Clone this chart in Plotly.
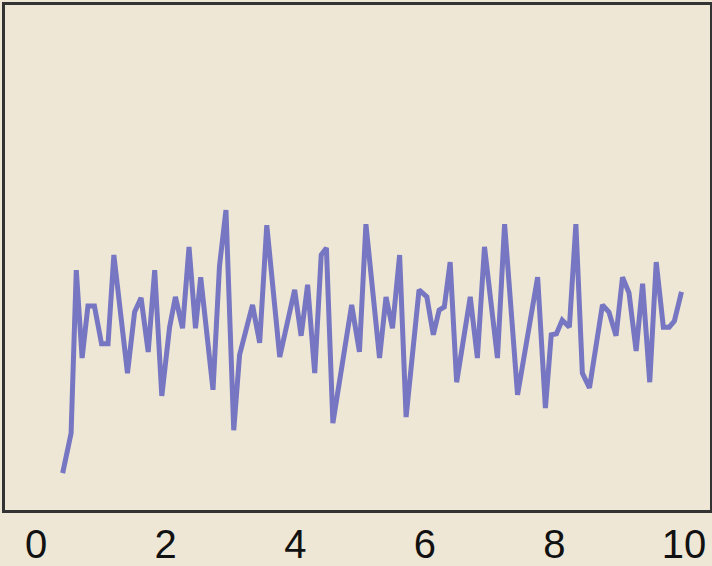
import plotly.graph_objects as go

x_values = [0.41, 0.54, 0.62, 0.71, 0.80, 0.90, 1.01, 1.11, 1.20, 1.41,
            1.52, 1.62, 1.73, 1.83, 1.94, 2.06, 2.15, 2.26, 2.36, 2.46,
            2.54, 2.73, 2.83, 2.93, 3.05, 3.14, 3.34, 3.45, 3.56, 3.76,
            3.99, 4.09, 4.19, 4.30, 4.40, 4.48, 4.58, 4.87, 4.99, 5.09,
            5.30, 5.40, 5.50, 5.61, 5.71, 5.91, 6.03, 6.13, 6.22, 6.30,
            6.39, 6.49, 6.70, 6.81, 6.92, 7.12, 7.23, 7.43, 7.74, 7.86,
            7.95, 8.03, 8.12, 8.23, 8.33, 8.43, 8.54, 8.74, 8.84, 8.95,
            9.05, 9.15, 9.26, 9.36, 9.47, 9.57, 9.68, 9.77, 9.85, 9.96]
y_values = [0.73, 1.52, 4.75, 3.01, 4.04, 4.04, 3.29, 3.29, 5.05, 2.71,
            3.92, 4.20, 3.13, 4.75, 2.26, 3.62, 4.22, 3.60, 5.21, 3.60,
            4.61, 2.38, 4.83, 5.94, 1.58, 3.07, 4.06, 3.31, 5.64, 3.03,
            4.36, 3.45, 4.46, 2.71, 5.05, 5.19, 1.72, 4.06, 3.13, 5.66,
            3.01, 4.22, 3.60, 5.05, 1.84, 4.36, 4.22, 3.47, 3.96, 4.02,
            4.91, 2.53, 4.22, 3.01, 5.21, 3.01, 5.66, 2.28, 4.61, 2.02,
            3.47, 3.49, 3.76, 3.62, 5.66, 2.71, 2.42, 4.06, 3.92, 3.45,
            4.61, 4.30, 3.15, 4.48, 2.53, 4.91, 3.62, 3.62, 3.74, 4.32]
x_tick_values = [0, 2, 4, 6, 8, 10]
x_tick_labels = ["0", "2", "4", "6", "8", "10"]

bg = "#EEE7D6"
fig = go.Figure()
fig.add_trace(go.Scatter(
    x=x_values, y=y_values, mode="lines",
    line=dict(color="#7676C2", width=5),
    showlegend=False, hoverinfo="skip",
))
fig.update_layout(
    width=712, height=566,
    margin=dict(l=5, r=2, t=5, b=56, autoexpand=False),
    paper_bgcolor=bg, plot_bgcolor=bg,
    font=dict(family="Liberation Sans, Arial, sans-serif", color="#111111"),
)
fig.update_xaxes(
    range=[-0.48, 10.4], tickvals=x_tick_values, ticktext=x_tick_labels,
    tickfont=dict(size=40), ticks="", showgrid=False, zeroline=False,
    showline=True, linecolor="#333333", linewidth=3, mirror=True,
    automargin=False, ticklabelstandoff=-3,
)
fig.update_yaxes(
    range=[0, 10], showticklabels=False, ticks="", showgrid=False,
    zeroline=False, showline=True, linecolor="#333333", linewidth=3,
    mirror=True, automargin=False,
)
fig.write_html(
    "out.html",
    config={"displayModeBar": False},
    post_script="document.body.style.margin='0';document.body.style.background='%s';" % bg,
)
